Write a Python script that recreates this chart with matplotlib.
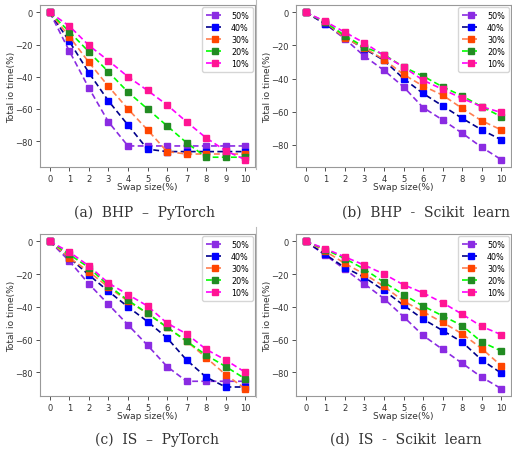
import matplotlib
matplotlib.use("Agg")
import matplotlib.pyplot as plt
from matplotlib.lines import Line2D

swap = [0, 1, 2, 3, 4, 5, 6, 7, 8, 9, 10]
labels = ["50%", "40%", "30%", "20%", "10%"]

bhp_torch = {
    "50%": [0, -24, -47, -68, -83, -83, -83, -83, -83, -83, -83],
    "40%": [0, -18, -37.5, -55, -70, -85, -86.5, -86.5, -86.5, -86.5, -86.5],
    "30%": [0, -15, -31, -46, -60, -73, -86.5, -88, -88, -88, -88],
    "20%": [0, -12, -24.5, -37, -49.5, -60, -70.5, -81, -90, -90, -90],
    "10%": [0, -8.5, -20.5, -30, -40, -48.5, -57.5, -68, -78, -86, -91.5],
}
bhp_sk = {
    "50%": [0, -7, -16, -26.5, -35, -45, -57.5, -65, -73, -81.5, -89],
    "40%": [0, -7, -15, -22, -29, -40, -49, -56.5, -64, -71, -77],
    "30%": [0, -6, -15.5, -21.5, -28.5, -37.5, -44.5, -50, -58, -65.5, -71],
    "20%": [0, -6, -14, -21, -25.5, -33, -38.5, -45, -50.5, -57, -63],
    "10%": [0, -5.5, -12, -18.5, -26, -33, -41, -46.5, -52, -57, -60.5],
}
is_torch = {
    "50%": [0, -12, -26, -38.5, -51, -63.5, -76.5, -85.5, -85.5, -85.5, -85.5],
    "40%": [0, -10, -20.5, -30.5, -40, -49, -59, -72.5, -83, -89, -89],
    "30%": [0, -10, -18.5, -28, -36.5, -44, -52.5, -61, -71, -81.5, -90],
    "20%": [0, -8, -16, -27, -36, -44, -52.5, -61, -69.5, -76.5, -84],
    "10%": [0, -6.5, -15, -25.5, -32.5, -39.5, -50, -56.5, -66, -72.5, -80],
}
is_sk = {
    "50%": [0, -8.5, -17, -26, -35, -46, -57.5, -66, -74.5, -83, -90],
    "40%": [0, -8, -16, -22, -30, -39, -47.5, -54.5, -61.5, -72.5, -80.5],
    "30%": [0, -6, -13.5, -20, -27.5, -36.5, -43, -49.5, -56.5, -65.5, -76],
    "20%": [0, -5, -10.5, -17, -25, -32.5, -39.5, -45.5, -51.5, -61.5, -67],
    "10%": [0, -4.5, -9.5, -14.5, -20, -26.5, -31.5, -37.5, -44.5, -52, -57],
}
captions = ["(a)  BHP  \u2013  PyTorch", "(b)  BHP  -  Scikit  learn",
            "(c)  IS  \u2013  PyTorch", "(d)  IS  -  Scikit  learn"]

line_colors = {"50%": "#8a2be2", "40%": "#00008b", "30%": "#ff7f50", "20%": "#00ff00", "10%": "#ff00ff"}
marker_colors = {"50%": "#8a2be2", "40%": "#0000ff", "30%": "#ff4500", "20%": "#228b22", "10%": "#ff1493"}

fig = plt.figure(figsize=(5.12, 4.6), dpi=100)

boxes = [
    (40, 6, 255, 168),
    (296, 6, 511, 168),
    (40, 235, 255, 397),
    (296, 235, 511, 397),
]
cap_pos = [(144, 213), (426, 213), (157, 440), (406, 440)]
datasets = [bhp_torch, bhp_sk, is_torch, is_sk]
W, H = 512, 460

for (l, t, r, b), data, cap, (cx, cy) in zip(boxes, datasets, captions, cap_pos):
    ax = fig.add_axes([l / W, 1 - b / H, (r - l) / W, (b - t) / H])
    for lab in labels:
        ax.plot(swap, data[lab], linestyle=(0, (3.5, 2)), linewidth=1.2,
                color=line_colors[lab], marker="s", markersize=4,
                markerfacecolor=marker_colors[lab], markeredgecolor=marker_colors[lab],
                label=lab)
    ax.set_xticks(swap)
    ax.tick_params(labelsize=6, length=3, width=0.6, colors="#333333", pad=2)
    ax.set_xlabel("Swap size(%)", fontsize=6.5, labelpad=-0.5, color="#333333")
    ax.set_ylabel("Total io time(%)", fontsize=6.5, color="#333333")
    ax.yaxis.set_label_coords(-0.112, 0.5)
    for s in ax.spines.values():
        s.set_color("#999999")
        s.set_linewidth(0.8)
    ax.legend(fontsize=5.8, loc="upper right", handlelength=2.2, handletextpad=0.9,
              borderpad=0.5, labelspacing=0.36, borderaxespad=0.25, frameon=True)
    fig.text(cx / W, 1 - cy / H, cap, ha="center", va="center", fontsize=10,
             family=["DejaVu Serif"], color="#333333")

# thin gray panel borders between left and right sub-images
fig.add_artist(Line2D([256 / W, 256 / W], [1 - 0 / H, 1 - 170 / H], color="#bbbbbb", lw=0.8))
fig.add_artist(Line2D([256 / W, 256 / W], [1 - 228 / H, 1 - 398 / H], color="#bbbbbb", lw=0.8))

fig.savefig("out.png", dpi=100)
